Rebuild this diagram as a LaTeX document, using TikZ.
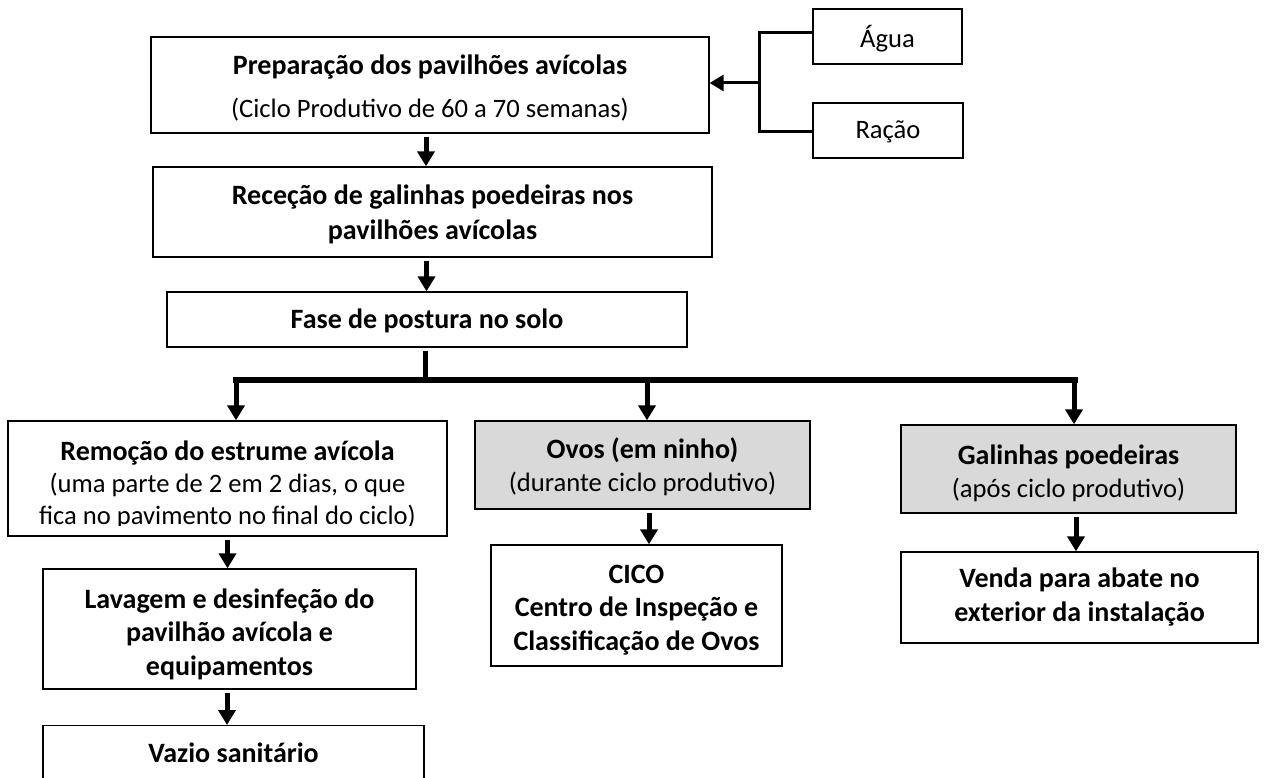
\documentclass[tikz,border=0pt]{standalone}
\usepackage{fontspec}
\setmainfont{Carlito}
\usetikzlibrary{arrows.meta,calc}
\definecolor{boxgray}{HTML}{D9D9D9}
\newcommand\boldtxt{\fontsize{28}{33}\selectfont\bfseries}
\begin{document}
\begin{tikzpicture}[x=1pt,y=-1pt,
  box/.style={draw=black,line width=1.3pt,inner sep=0pt},
  gbox/.style={box,fill=boxgray},
  txt/.style={inner sep=0pt,align=center,font=\fontsize{26.6}{33}\selectfont},
  btxt/.style={inner sep=0pt,align=center,font=\fontsize{28}{33}\selectfont\bfseries},
  arr/.style={line width=5pt,-{Triangle[width=17pt,length=15pt]},shorten <=3pt},
  bar/.style={line width=5pt},
  busline/.style={line width=6pt,line cap=rect},
  brk/.style={line width=3pt},
  arrl/.style={line width=3pt,-{Triangle[width=16pt,length=14pt]}}
]
\useasboundingbox (0,0) rectangle (1267,778);
\fill[white] (0,0) rectangle (1267,778);

% boxes
\node[box,minimum width=558pt,minimum height=96pt] (prep) at (430,85) {};
\node[box,minimum width=559pt,minimum height=90pt] (rec) at (432.5,212) {};
\node[box,minimum width=520pt,minimum height=55pt] (fase) at (427,319.5) {};
\node[box,minimum width=149pt,minimum height=55pt] (agua) at (887.5,36.5) {};
\node[box,minimum width=150pt,minimum height=55pt] (racao) at (888,130.5) {};
\node[box,minimum width=439pt,minimum height=115pt] (rem) at (227.5,478.5) {};
\node[gbox,minimum width=335pt,minimum height=88pt] (ovos) at (642.5,465) {};
\node[gbox,minimum width=335pt,minimum height=88pt] (gal) at (1068.5,469) {};
\node[box,minimum width=373pt,minimum height=120pt] (lav) at (229.5,629) {};
\node[box,minimum width=291pt,minimum height=121pt] (cico) at (636.5,605.5) {};
\node[box,minimum width=357pt,minimum height=91pt] (venda) at (1079.5,597.5) {};
\node[box,minimum width=381pt,minimum height=70pt,anchor=north] (vazio) at (233.5,725) {};

% texts
\node[txt,font=\fontsize{26.6}{43}\selectfont] (prept) at (430,88) {{\boldtxt Preparação dos pavilhões avícolas}\\(Ciclo Produtivo de 60 a 70 semanas)};
\node[btxt,font=\fontsize{28}{35}\selectfont\bfseries] (rect) at (432.5,214) {Receção de galinhas poedeiras nos\\pavilhões avícolas};
\node[btxt] (faset) at (427,321) {Fase de postura no solo};
\node[txt] (aguat) at (887.5,38.5) {Água};
\node[txt] (racaot) at (888,132) {Ração};
\begin{scope}
  \clip (rem.north west) rectangle ([yshift=11pt]rem.south east);
  \node[txt,font=\fontsize{26.6}{32}\selectfont] (remt) at (227.5,484.5) {{\boldtxt Remoção do estrume avícola}\\(uma parte de 2 em 2 dias, o que\\fica no pavimento no final do ciclo)};
\end{scope}
\node[txt] (ovost) at (642.5,467) {{\boldtxt Ovos (em ninho)}\\(durante ciclo produtivo)};
\node[txt] (galt) at (1068.5,473) {{\boldtxt Galinhas poedeiras}\\(após ciclo produtivo)};
\node[btxt,font=\fontsize{28}{33.5}\selectfont\bfseries] (lavt) at (229.5,634) {Lavagem e desinfeção do\\pavilhão avícola e\\equipamentos};
\node[btxt,font=\fontsize{28}{33.3}\selectfont\bfseries] (cicot) at (636.5,610) {CICO\\Centro de Inspeção e\\Classificação de Ovos};
\node[btxt,font=\fontsize{28}{33.3}\selectfont\bfseries] (vendat) at (1079.5,597) {Venda para abate no\\exterior da instalação};
\node[btxt] (vaziot) at (233.5,753) {Vazio sanitário};

% connectors
\draw[arr] ([xshift=-4pt]prep.south) -- ([xshift=-4pt]prep.south |- rec.north);
\draw[arr] ([xshift=-6pt]rec.south) -- ([xshift=-6pt]rec.south |- fase.north);

\coordinate (busL) at (236,380);
\coordinate (busM) at (647,380);
\coordinate (busR) at (1075,380);
\draw[bar,shorten <=3pt] ([xshift=-2pt]fase.south) -- ([xshift=-2pt]fase.south |- busL);
\draw[busline] (busL) -- (busR);
\draw[arr,shorten <=0pt] (busL) -- (busL |- rem.north);
\draw[arr,shorten <=0pt] (busM) -- (busM |- ovos.north);
\draw[arr,shorten <=0pt] ([xshift=-1pt]busR) -- ([xshift=-1pt]busR |- gal.north);

\draw[arr] (rem.south) -- (rem.south |- lav.north);
\draw[arr] ([xshift=-2.5pt]lav.south) -- ([xshift=-2.5pt]lav.south |- vazio.north);
\draw[arr] ([xshift=6.5pt]ovos.south) -- ([xshift=6.5pt]ovos.south |- cico.north);
\draw[arr] ([xshift=7.5pt]gal.south) -- ([xshift=7.5pt]gal.south |- venda.north);

\coordinate (bk) at (759,83);
\draw[brk] ([yshift=3.5pt]agua.west) -- ([yshift=3.5pt]agua.west -| bk) -- ([yshift=-1.5pt]racao.west -| bk) -- ([yshift=-1.5pt]racao.west);
\draw[arrl] (bk) -- (bk -| prep.east);
\end{tikzpicture}
\end{document}
